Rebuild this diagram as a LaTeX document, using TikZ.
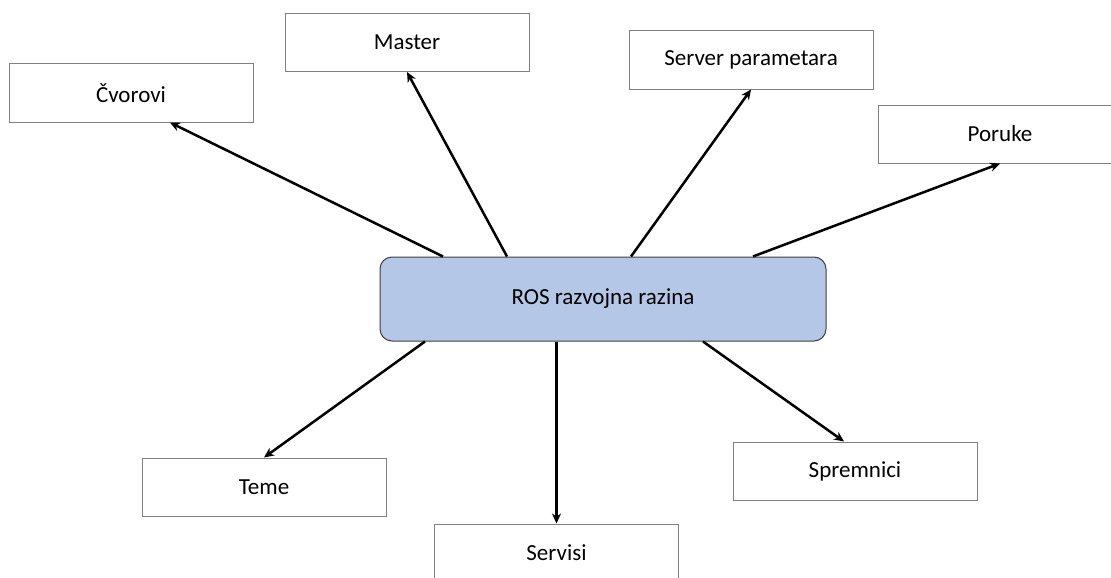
\documentclass[tikz,border=0pt]{standalone}
\usepackage{fontspec}
\setmainfont{Carlito}
\usetikzlibrary{arrows.meta}
\begin{document}
\begin{tikzpicture}[x=1pt,y=-1pt,
  box/.style={draw=black!50,line width=1pt,minimum width=244pt,minimum height=58pt,inner sep=0pt,font=\fontsize{23}{27}\selectfont,text=black},
  ros/.style={draw=black!75,line width=1pt,fill={rgb,255:red,180;green,199;blue,231},rounded corners=12pt,minimum width=446pt,minimum height=84pt,inner sep=0pt,font=\fontsize{23}{27}\selectfont,text=black},
  arr/.style={line width=2.5pt,-{Stealth[length=10pt,width=9pt]}}]
\useasboundingbox (0,0) rectangle (1111,578);
\fill[white] (0,0) rectangle (1111,578);
\node[ros] (r) at (603,299) {ROS razvojna razina};
\node[box] (cv) at (131,93) {Čvorovi};
\node[box] (ma) at (407,42.5) {Master};
\node[box] (sp) at (751,60) {Server parametara};
\node[box] (po) at (1000,134) {Poruke};
\node[box] (te) at (264,487) {Teme};
\node[box] (se) at (556.5,553) {Servisi};
\node[box] (sm) at (855,471) {Spremnici};
\draw[arr] ([xshift=-160pt]r.north) -- ([xshift=39pt]cv.south);
\draw[arr] ([xshift=-96pt]r.north) -- (ma.south);
\draw[arr] ([xshift=28pt]r.north) -- (sp.south);
\draw[arr] ([xshift=150pt]r.north) -- (po.south);
\draw[arr] ([xshift=-178pt]r.south) -- (te.north);
\draw[arr] (r.south -| se.north) -- (se.north);
\draw[arr] ([xshift=100pt]r.south) -- ([xshift=-11pt]sm.north);
\end{tikzpicture}
\end{document}
